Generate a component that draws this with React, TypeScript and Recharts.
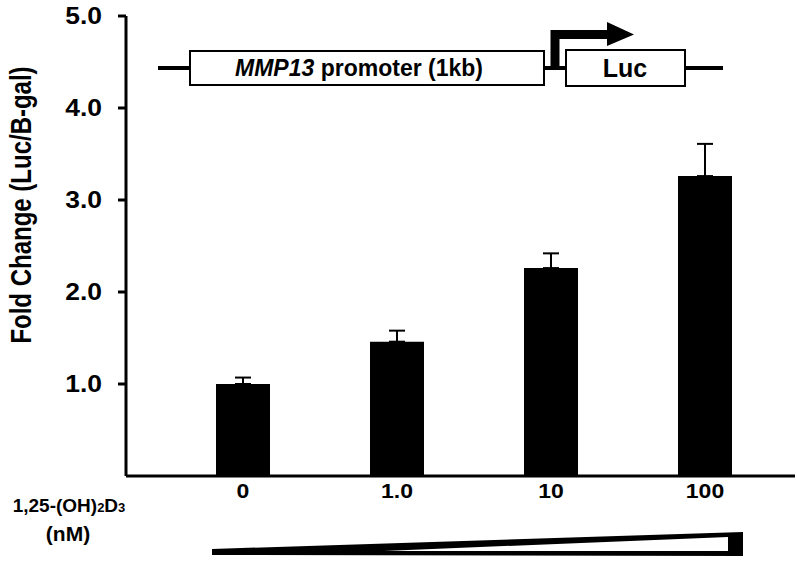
import { BarChart, Bar, XAxis, YAxis, ErrorBar, Customized } from "recharts";

const doses = ["0", "1.0", "10", "100"];
const foldChange = [1.0, 1.46, 2.26, 3.26];
const upperError = [0.07, 0.12, 0.16, 0.35];
const yTicks = [1, 2, 3, 4, 5];

const data = doses.map((dose, i) => ({
  dose,
  fold: foldChange[i],
  err: [0, upperError[i]],
}));

const FONT = '"Liberation Sans", Arial, sans-serif';

// the source figure's lettering is a bit wider than plain Arial
function XTick({ x, y, payload }: any) {
  return (
    <text
      transform={`translate(${x},${y + 22}) scale(1.15,1)`}
      textAnchor="middle"
      fontFamily={FONT}
      fontSize={20}
      fontWeight="bold"
      fill="#000"
    >
      {payload.value}
    </text>
  );
}

function YTick({ x, y, payload }: any) {
  return (
    <text
      transform={`translate(${x},${y + 8}) scale(1.15,1)`}
      textAnchor="end"
      fontFamily={FONT}
      fontSize={23}
      fontWeight="bold"
      fill="#000"
    >
      {payload.value.toFixed(1)}
    </text>
  );
}

// promoter construct drawing + dose wedge + side labels
function Decorations() {
  return (
    <g fontFamily={FONT}>
      <text
        transform="translate(31,205) rotate(-90) scale(1,1.25)"
        textAnchor="middle"
        fontSize={24}
        fontWeight="bold"
        fill="#000"
      >
        Fold Change (Luc/B-gal)
      </text>

      <line x1={158} y1={68} x2={190} y2={68} stroke="#000" strokeWidth={4} />
      <rect x={190} y={51} width={354} height={34} fill="#fff" stroke="#000" strokeWidth={2} />
      <text x={359} y={76} textAnchor="middle" fontSize={23} fontWeight="bold" fill="#000">
        <tspan fontStyle="italic">MMP13</tspan> promoter (1kb)
      </text>
      <line x1={544} y1={68} x2={566} y2={68} stroke="#000" strokeWidth={4} />
      <rect x={566} y={50} width={119} height={36} fill="#fff" stroke="#000" strokeWidth={2} />
      <text x={625} y={77} textAnchor="middle" fontSize={25} fontWeight="bold" fill="#000">
        Luc
      </text>
      <line x1={685} y1={68} x2={723} y2={68} stroke="#000" strokeWidth={4} />
      <path d="M555 70 V34.5 H609" fill="none" stroke="#000" strokeWidth={9} />
      <polygon points="607,22 634,34.5 607,46" fill="#000" />

      <text x={69} y={512} textAnchor="middle" fontSize={19} fontWeight="bold" fill="#000">
        1,25-(OH)<tspan fontSize={13}>2</tspan>D<tspan fontSize={13}>3</tspan>
      </text>
      <text x={68} y={541} textAnchor="middle" fontSize={21} fontWeight="bold" fill="#000">
        (nM)
      </text>

      <polygon points="212,549 743,532 743,556 212,555" fill="#000" />
      <polygon points="384,551 728,537 728,551" fill="#fff" />
    </g>
  );
}

export default function App() {
  return (
    <div style={{ position: "absolute", left: 0, top: 0, background: "#fff" }}>
      <BarChart
        width={797}
        height={563}
        data={data}
        margin={{ top: 16, right: 2, left: 0, bottom: 57 }}
      >
        <XAxis
          dataKey="dose"
          height={30}
          padding={{ left: 40, right: 13 }}
          axisLine={{ stroke: "#000", strokeWidth: 3 }}
          tickLine={false}
          tickSize={0}
          tickMargin={0}
          tick={<XTick />}
        />
        <YAxis
          width={126}
          domain={[0, 5]}
          ticks={yTicks}
          axisLine={{ stroke: "#000", strokeWidth: 3 }}
          tickLine={{ stroke: "#000", strokeWidth: 3 }}
          tickSize={8}
          tickMargin={16}
          tick={<YTick />}
        />
        <Bar dataKey="fold" fill="#000" barSize={54} isAnimationActive={false}>
          <ErrorBar dataKey="err" width={8} stroke="#000" strokeWidth={2} />
        </Bar>
        <Customized component={Decorations} />
      </BarChart>
    </div>
  );
}
